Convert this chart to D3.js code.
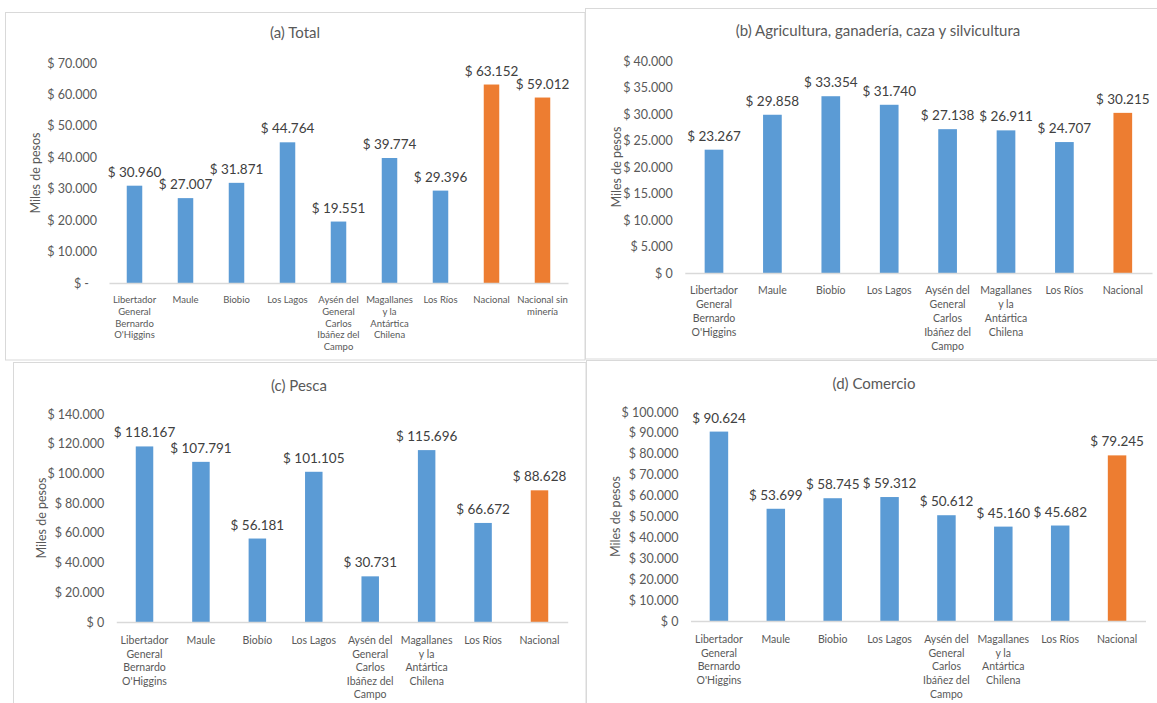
<!DOCTYPE html>
<html>
<head>
<meta charset="utf-8">
<script src="https://cdn.jsdelivr.net/npm/d3@7"></script>
<style>
  body { margin: 0; background: #fff; }
  svg { display: block; font-family: Lato, "Open Sans", sans-serif; }
</style>
</head>
<body>
<script>
// regions, in the order they appear on the x axis
var regionsA = ["Libertador General Bernardo O'Higgins", "Maule", "Biobio", "Los Lagos",
  "Aysén del General Carlos Ibáñez del Campo", "Magallanes y la Antártica Chilena", "Los Ríos",
  "Nacional", "Nacional sin minería"];
var regionsB = ["Libertador General Bernardo O'Higgins", "Maule", "Biobío", "Los Lagos",
  "Aysén del General Carlos Ibáñez del Campo", "Magallanes y la Antártica Chilena", "Los Ríos",
  "Nacional"];
var regionsD = ["Libertador General Bernardo O'Higgins", "Maule", "Biobio", "Los Lagos",
  "Aysén del General Carlos Ibáñez del Campo", "Magallanes y la Antártica Chilena", "Los Ríos",
  "Nacional"];

var total    = [30960, 27007, 31871, 44764, 19551, 39774, 29396, 63152, 59012];
var agricola = [23267, 29858, 33354, 31740, 27138, 26911, 24707, 30215];
var pesca    = [118167, 107791, 56181, 101105, 30731, 115696, 66672, 88628];
var comercio = [90624, 53699, 58745, 59312, 50612, 45160, 45682, 79245];

var ticksA = [0, 10000, 20000, 30000, 40000, 50000, 60000, 70000];
var ticksB = [0, 5000, 10000, 15000, 20000, 25000, 30000, 35000, 40000];
var ticksC = [0, 20000, 40000, 60000, 80000, 100000, 120000, 140000];
var ticksD = [0, 10000, 20000, 30000, 40000, 50000, 60000, 70000, 80000, 90000, 100000];

var nationalCats = ["Nacional", "Nacional sin minería"];

var blue = "#5B9BD5", orange = "#ED7D31";
var grey = "#595959";

var loc = d3.formatLocale({decimal: ",", thousands: ".", grouping: [3], currency: ["$ ", ""]});
var money = loc.format("$,.0f");

var W = 1157, H = 703;
var svg = d3.select("body").append("svg")
  .attr("width", W)
  .attr("height", H);

var panels = [
  {title: "(a) Total", cats: regionsA, vals: total, ticks: ticksA, zeroDash: true,
   box: [5.5, 12.5, 585, 360], x: [109, 568], y: [283, 63], tx: 295, ty: 38, ax: 35,
   catSize: 9.5, catLine: 11.8, catTop: 300, barFrac: 0.304},
  {title: "(b) Agricultura, ganadería, caza y silvicultura", cats: regionsB, vals: agricola, ticks: ticksB,
   box: [585.5, 8.5, 1170, 359], x: [684.8, 1152], y: [273, 61], tx: 878, ty: 36, ax: 616,
   catSize: 10.5, catLine: 14, catTop: 291, barFrac: 0.32},
  {title: "(c) Pesca", cats: regionsB, vals: pesca, ticks: ticksC,
   box: [13.5, 362.5, 586, 720], x: [116.3, 567.7], y: [622, 414], tx: 299, ty: 391, ax: 41,
   catSize: 10.5, catLine: 13.6, catTop: 641, barFrac: 0.31},
  {title: "(d) Comercio", cats: regionsD, vals: comercio, ticks: ticksD,
   box: [586.5, 360.5, 1170, 720], x: [690.5, 1145.5], y: [621, 412], tx: 874, ty: 389, ax: 615,
   catSize: 10.5, catLine: 13.7, catTop: 640, barFrac: 0.325}
];

panels.forEach(drawPanel);

function drawPanel(p) {
  var g = svg.append("g");

  g.append("rect")
    .attr("x", p.box[0]).attr("y", p.box[1])
    .attr("width", p.box[2] - p.box[0]).attr("height", p.box[3] - p.box[1])
    .attr("fill", "#fff")
    .attr("stroke", "#D9D9D9")
    .attr("stroke-width", 1);

  var x = d3.scaleBand()
    .domain(p.cats)
    .range(p.x)
    .paddingInner(1 - p.barFrac)
    .paddingOuter((1 - p.barFrac) / 2);

  var y = d3.scaleLinear()
    .domain([0, d3.max(p.ticks)])
    .range(p.y);

  // y axis: labels only
  var yAxis = d3.axisLeft(y)
    .tickValues(p.ticks)
    .tickSize(0)
    .tickPadding(12)
    .tickFormat(function(v) { return (v === 0 && p.zeroDash) ? "$ -" : money(v); });

  var ya = g.append("g")
    .attr("transform", "translate(" + p.x[0] + ",0)")
    .call(yAxis);
  ya.select(".domain").remove();
  ya.selectAll("text")
    .attr("fill", grey)
    .style("font-size", "12.5px")
    .style("font-family", "Lato");
  if (p.zeroDash) {
    ya.selectAll("text").filter(function(v) { return v === 0; }).attr("dx", -8);
  }

  // bars
  g.selectAll("rect.bar")
    .data(p.vals)
    .enter().append("rect")
    .attr("class", "bar")
    .attr("x", function(d, i) { return x(p.cats[i]); })
    .attr("y", function(d) { return y(d); })
    .attr("width", x.bandwidth())
    .attr("height", function(d) { return y(0) - y(d); })
    .attr("fill", function(d, i) { return nationalCats.indexOf(p.cats[i]) >= 0 ? orange : blue; });

  // baseline
  var xAxis = d3.axisBottom(x).tickSize(0).tickFormat("");
  var xa = g.append("g")
    .attr("transform", "translate(0," + y(0) + ")")
    .call(xAxis);
  xa.select(".domain").attr("stroke", "#D9D9D9").attr("stroke-width", 1.3);

  // value labels
  g.selectAll("text.val")
    .data(p.vals)
    .enter().append("text")
    .attr("class", "val")
    .attr("x", function(d, i) { return x(p.cats[i]) + x.bandwidth() / 2; })
    .attr("y", function(d) { return y(d) - 9; })
    .attr("text-anchor", "middle")
    .attr("fill", "#404040")
    .style("font-size", "13.5px")
    .text(function(d) { return money(d); });

  // category labels, wrapped to the band step
  var step = x.step();
  p.cats.forEach(function(c) {
    var t = g.append("text")
      .attr("text-anchor", "middle")
      .attr("fill", grey)
      .style("font-size", p.catSize + "px");
    var words = c.split(" "), line = [], n = 0;
    var cx = x(c) + x.bandwidth() / 2;
    var ts = t.append("tspan").attr("x", cx).attr("y", p.catTop + 3);
    words.forEach(function(w) {
      line.push(w);
      ts.text(line.join(" "));
      if (ts.node().getComputedTextLength() > step + 1 && line.length > 1) {
        line.pop();
        ts.text(line.join(" "));
        line = [w];
        n++;
        ts = t.append("tspan").attr("x", cx).attr("y", p.catTop + 3 + n * p.catLine).text(w);
      }
    });
  });

  // axis title
  g.append("text")
    .attr("transform", "translate(" + (p.ax + 5) + "," + ((p.y[0] + p.y[1]) / 2) + ") rotate(-90)")
    .attr("text-anchor", "middle")
    .attr("fill", grey)
    .style("font-size", "12.5px")
    .text("Miles de pesos");

  // title
  g.append("text")
    .attr("x", p.tx)
    .attr("y", p.ty)
    .attr("text-anchor", "middle")
    .attr("fill", grey)
    .style("font-size", "15px")
    .text(p.title);
}
</script>
</body>
</html>
